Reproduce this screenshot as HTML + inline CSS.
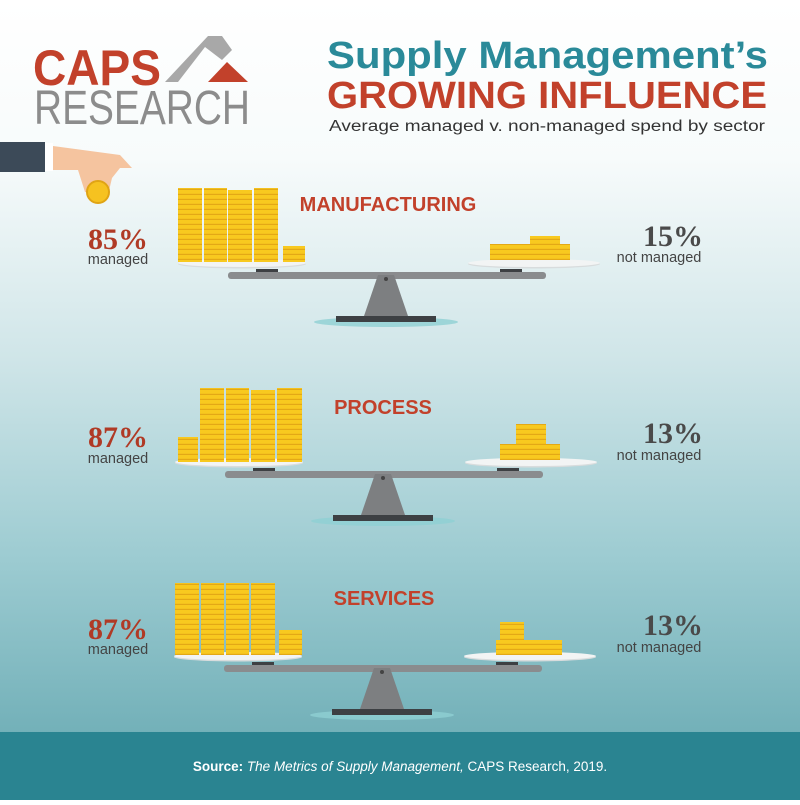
<!DOCTYPE html>
<html><head><meta charset="utf-8"><style>
html,body{margin:0;padding:0}
body{width:800px;height:800px;overflow:hidden;font-family:"Liberation Sans",sans-serif}
</style></head><body>
<svg width="800" height="800" viewBox="0 0 800 800" xmlns="http://www.w3.org/2000/svg">
<defs>
<linearGradient id="bg" x1="0" y1="0" x2="0" y2="1">
<stop offset="0" stop-color="#ffffff"/>
<stop offset="0.2" stop-color="#f7fbfb"/>
<stop offset="0.45" stop-color="#cfe5e8"/>
<stop offset="0.7" stop-color="#9ccbd1"/>
<stop offset="0.92" stop-color="#72b0b8"/>
</linearGradient>
<pattern id="coin" width="10" height="5" patternUnits="userSpaceOnUse">
<rect width="10" height="5" fill="#f8c91f"/>
<rect y="3.8" width="10" height="1.2" fill="#e3a816"/>
</pattern>
<g id="scale">
<ellipse cx="242" cy="1" rx="64" ry="4.5" fill="#d8dcdd"/>
<ellipse cx="242" cy="0" rx="64" ry="4" fill="#f2f4f4"/>
<ellipse cx="534" cy="1" rx="66" ry="4.5" fill="#d8dcdd"/>
<ellipse cx="534" cy="0" rx="66" ry="4" fill="#f2f4f4"/>
<rect x="256" y="6" width="22" height="4" fill="#3d4043"/>
<rect x="500" y="6" width="22" height="4" fill="#3d4043"/>
<rect x="228" y="9" width="318" height="7" rx="3" fill="#8a8c8e"/>
<polygon points="378,12 394,12 408,53 364,53" fill="#7d7f81"/>
<circle cx="386" cy="16" r="2" fill="#444"/>
<ellipse cx="386" cy="59" rx="72" ry="5" fill="#8ed0d3" opacity="0.8"/>
<rect x="336" y="53" width="100" height="6" fill="#3d4043"/>
</g>
</defs>
<rect width="800" height="800" fill="url(#bg)"/>
<text x="33" y="85" font-size="50" font-weight="bold" fill="#c2412b" textLength="128" lengthAdjust="spacingAndGlyphs">CAPS</text>
<text x="34" y="124" font-size="48" fill="#8c8c8c" textLength="216" lengthAdjust="spacingAndGlyphs">RESEARCH</text>
<polygon points="165,82 208,36 222,36 232,50 222,60 205,47 178,82" fill="#a8a8a8"/>
<polygon points="208,82 227,62 248,82" fill="#c2412b"/>
<text x="327" y="68" font-size="38" font-weight="bold" fill="#2a8a99" textLength="441" lengthAdjust="spacingAndGlyphs">Supply Management’s</text>
<text x="327" y="108" font-size="38" font-weight="bold" fill="#c2412b" textLength="440" lengthAdjust="spacingAndGlyphs">GROWING INFLUENCE</text>
<text x="329" y="131" font-size="15.5" fill="#333" textLength="436" lengthAdjust="spacingAndGlyphs">Average managed v. non-managed spend by sector</text>
<rect x="0" y="142" width="45" height="30" fill="#3c4a58"/>
<rect x="45" y="143" width="8" height="28" fill="#fff"/>
<path d="M53 146 L120 155 L132 168 L120 168 L112 178 L108 195 L85 192 L78 170 L53 170Z" fill="#f5c49f"/>
<circle cx="98" cy="192" r="11" fill="#f6c220" stroke="#e0a414" stroke-width="2"/>
<g>
<use href="#scale" transform="translate(0,263)"/>
<g fill="url(#coin)"><rect x="178" y="188" width="24" height="74"/><rect x="204" y="188" width="23" height="74"/><rect x="228" y="190" width="24" height="72"/><rect x="254" y="188" width="24" height="74"/><rect x="283" y="246" width="22" height="16"/></g>
<g fill="url(#coin)"><rect x="490" y="244" width="80" height="16"/><rect x="530" y="236" width="30" height="10"/></g>
</g>
<g>
<use href="#scale" transform="translate(-3,462)"/>
<g fill="url(#coin)"><rect x="178" y="437" width="20" height="25"/><rect x="200" y="388" width="24" height="74"/><rect x="226" y="388" width="23" height="74"/><rect x="251" y="390" width="24" height="72"/><rect x="277" y="388" width="25" height="74"/></g>
<g fill="url(#coin)"><rect x="500" y="444" width="60" height="16"/><rect x="516" y="424" width="30" height="22"/></g>
</g>
<g>
<use href="#scale" transform="translate(-4,656)"/>
<g fill="url(#coin)"><rect x="175" y="583" width="24" height="72"/><rect x="201" y="583" width="23" height="72"/><rect x="226" y="583" width="23" height="72"/><rect x="251" y="583" width="24" height="72"/><rect x="279" y="630" width="23" height="25"/></g>
<g fill="url(#coin)"><rect x="496" y="640" width="66" height="15"/><rect x="500" y="622" width="24" height="20"/></g>
</g>
<g font-size="20" font-weight="bold" fill="#c2412b" text-anchor="middle">
<text x="388" y="211">MANUFACTURING</text>
<text x="383" y="414">PROCESS</text>
<text x="384" y="605">SERVICES</text>
</g>
<g font-family="Liberation Serif,serif" font-weight="bold" font-size="30">
<text x="118" y="249" text-anchor="middle" fill="#b03a25">85%</text>
<text x="118" y="447" text-anchor="middle" fill="#b03a25">87%</text>
<text x="118" y="639" text-anchor="middle" fill="#b03a25">87%</text>
<text x="673" y="246" text-anchor="middle" fill="#4a4a4a">15%</text>
<text x="673" y="443" text-anchor="middle" fill="#4a4a4a">13%</text>
<text x="673" y="635" text-anchor="middle" fill="#4a4a4a">13%</text>
</g>
<g font-size="14.5" fill="#444" text-anchor="middle">
<text x="118" y="264">managed</text>
<text x="118" y="463">managed</text>
<text x="118" y="654">managed</text>
<text x="659" y="262">not managed</text>
<text x="659" y="460">not managed</text>
<text x="659" y="652">not managed</text>
</g>
<rect x="0" y="732" width="800" height="68" fill="#2a8491"/>
<text x="400" y="771" font-size="13.5" fill="#fff" text-anchor="middle"><tspan font-weight="bold">Source:</tspan> <tspan font-style="italic">The Metrics of Supply Management,</tspan> CAPS Research, 2019.</text>
</svg>
</body></html>
